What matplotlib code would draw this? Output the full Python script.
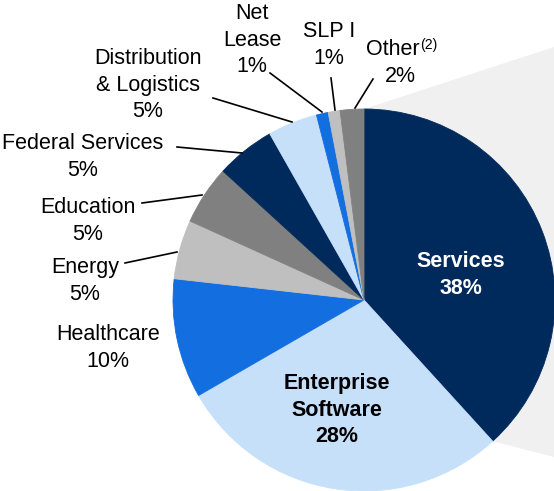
import matplotlib.pyplot as plt
from matplotlib.patches import Polygon
import numpy as np

# data (slice sizes, labels as printed)
sectors = ['Services', 'Enterprise\nSoftware', 'Healthcare', 'Energy', 'Education',
           'Federal Services', 'Distribution\n& Logistics', 'Net\nLease', 'SLP I', 'Other']
shares = [38.2, 28.4, 10.1, 5.0, 5.0, 5.0, 4.2, 1.0, 1.0, 2.0]
pct_labels = ['38%', '28%', '10%', '5%', '5%', '5%', '5%', '1%', '1%', '2%']

navy = '#002A5C'
light_blue = '#C6E0FA'
blue = '#136FE0'
light_gray = '#BFBFBF'
gray = '#808080'
colors = [navy, light_blue, blue, light_gray, gray, navy, light_blue, blue, light_gray, gray]

W, H = 554, 491
cx, cy, R = 364, 300, 191

# label centres (pixel coords from top-left) and leader lines
label_xy = [(461, 275), (337, 410), (108, 348), (85, 281), (88, 221),
            (83, 157), (148, 85), (252, 40), (329, 45), (400, 62)]
leaders = {
    'Energy': [(125, 263), (177, 252)],
    'Education': [(142, 203), (202, 195)],
    'Federal Services': [(177, 147), (242, 153)],
    'Distribution\n& Logistics': [(213, 98), (292, 122)],
    'Net\nLease': [(270, 73), (322, 112)],
    'SLP I': [(331, 78), (335, 110)],
    'Other': [(373, 79), (355, 108)],
}

plt.rcParams['font.family'] = ['Liberation Sans', 'DejaVu Sans']
fs = 15.5
ls = 1.35

fig = plt.figure(figsize=(W / 100, H / 100), dpi=100)
ax = fig.add_axes([0, 0, 1, 1])

def py(y):
    return H - y

wedges, _ = ax.pie(shares, colors=colors, startangle=90, counterclock=False,
                   center=(cx, py(cy)), radius=R, frame=True,
                   wedgeprops=dict(linewidth=0.6))
for w in wedges:
    w.set_edgecolor(w.get_facecolor())
    w.set_zorder(3)

# grey callout band behind the pie (towards the breakout on the right)
t_end = np.deg2rad(wedges[0].theta1)
bx, by = cx + R * np.cos(t_end), py(cy) + R * np.sin(t_end)
band = Polygon([(cx, py(cy) + R), (W, py(47)), (W, py(457)), (bx, by)],
               closed=True, facecolor='#F0F0F0', edgecolor='none', zorder=1)
ax.add_patch(band)

for i in range(len(sectors)):
    name = sectors[i]
    x, y = label_xy[i]
    pct = pct_labels[i]
    if i == 0:
        ax.text(x, py(y), name + '\n' + pct, ha='center', va='center', fontsize=fs,
                fontweight='bold', color='white', linespacing=ls, zorder=5)
    elif i == 1:
        ax.text(x, py(y), name + '\n' + pct, ha='center', va='center', fontsize=fs,
                fontweight='bold', color='black', linespacing=ls, zorder=5)
    elif name == 'Other':
        ax.text(420, py(49), name, ha='right', va='center', fontsize=fs, zorder=5)
        ax.text(420, py(45), '(2)', ha='left', va='center', fontsize=fs * 0.65, zorder=5)
        ax.text(x, py(76), pct, ha='center', va='center', fontsize=fs, zorder=5)
    else:
        ax.text(x, py(y), name + '\n' + pct, ha='center', va='center', fontsize=fs,
                linespacing=ls, zorder=5)
    if name in leaders:
        (x0, y0), (x1, y1) = leaders[name]
        ax.plot([x0, x1], [py(y0), py(y1)], color='black', lw=1.2, zorder=4)

ax.set_xlim(0, W)
ax.set_ylim(0, H)
ax.set_aspect('auto')
ax.axis('off')

fig.savefig('out.png', dpi=100)
